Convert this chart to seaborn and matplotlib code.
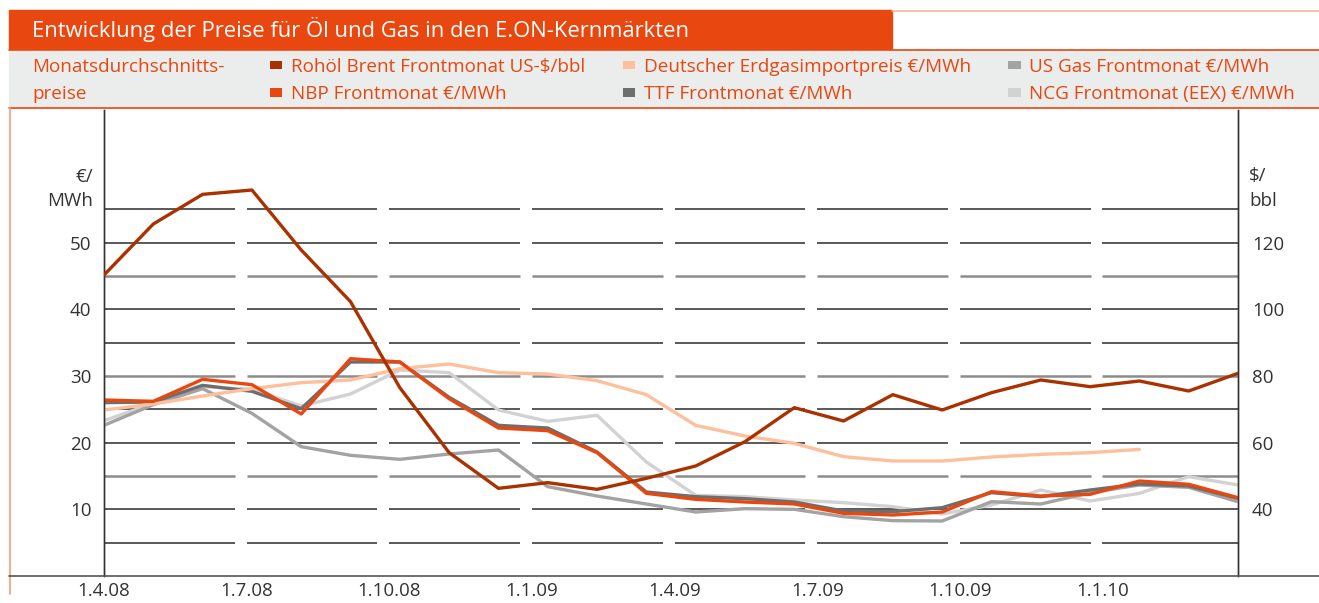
import numpy as np
import pandas as pd
import seaborn as sns
import matplotlib.pyplot as plt
from matplotlib.patches import Rectangle, Patch
from matplotlib.lines import Line2D

# monthly averages Apr 2008 - Mar 2010
brent = [110.3, 125.6, 134.5, 135.8, 117.8, 102.3, 76.5, 57.0, 46.3, 48.0, 46.0, 49.3,
         53.0, 60.3, 70.5, 66.5, 74.4, 69.8, 75.0, 78.8, 76.8, 78.5, 75.5, 80.8]
nbp = [26.4, 26.2, 29.5, 28.7, 24.3, 32.6, 32.1, 26.6, 22.2, 21.8, 18.5, 12.4,
       11.5, 11.1, 10.8, 9.4, 9.15, 9.6, 12.65, 12.0, 12.25, 14.25, 13.75, 11.75]
ttf = [26.0, 26.1, 28.6, 27.7, 25.1, 32.1, 32.1, 26.8, 22.6, 22.2, 18.6, 12.6,
       11.9, 11.6, 11.1, 9.75, 9.65, 10.25, 12.5, 11.9, 12.9, 13.8, 13.5, 11.65]
us_gas = [22.6, 25.7, 28.1, 24.4, 19.4, 18.1, 17.5, 18.3, 18.9, 13.4, 12.0, 10.8,
          9.6, 10.1, 10.0, 8.9, 8.3, 8.25, 11.15, 10.8, 12.5, 13.65, 13.3, 11.15]
ncg = [23.3, 25.9, 28.4, 28.0, 25.5, 27.3, 30.9, 30.5, 24.9, 23.2, 24.1, 17.1,
       12.1, 11.9, 11.4, 11.0, 10.4, 9.3, 10.65, 12.9, 11.25, 12.4, 14.9, 13.65]
gas_import = [24.9, 25.8, 27.0, 28.1, 29.0, 29.4, 31.1, 31.8, 30.5, 30.3, 29.3, 27.2,
              22.6, 21.0, 19.9, 17.9, 17.25, 17.25, 17.85, 18.25, 18.5, 19.0, np.nan, np.nan]

month = np.arange(len(brent))
tick_labels = ["1.4.08", "1.7.08", "1.10.08", "1.1.09", "1.4.09", "1.7.09", "1.10.09", "1.1.10"]

names = {
    "brent": "Rohöl Brent Frontmonat US-$/bbl",
    "nbp": "NBP Frontmonat €/MWh",
    "imp": "Deutscher Erdgasimportpreis €/MWh",
    "ttf": "TTF Frontmonat €/MWh",
    "us": "US Gas Frontmonat €/MWh",
    "ncg": "NCG Frontmonat (EEX) €/MWh",
}
colors = {"brent": "#a93200", "nbp": "#e8470f", "imp": "#fdbf9c",
          "ttf": "#6e6e6e", "us": "#a3a3a3", "ncg": "#d2d2d2"}
orange = "#e8470f"

sns.set_theme(style="white")
plt.rcParams["font.family"] = ["Open Sans", "DejaVu Sans"]

W, H = 1319, 603
fig = plt.figure(figsize=(W / 100, H / 100), dpi=100)

def fx(x):
    return x / W

def fy(y):
    return 1 - y / H

# header: title bar and legend band
fig.patches.append(Rectangle((fx(9), fy(49)), fx(892) - fx(9), fy(10) - fy(49),
                             transform=fig.transFigure, color=orange, zorder=0))
fig.lines.append(Line2D([fx(892), 1], [fy(11), fy(11)], transform=fig.transFigure,
                        color="#f6b39a", lw=1.2))
fig.patches.append(Rectangle((fx(9), fy(108)), 1 - fx(9), fy(50) - fy(108),
                             transform=fig.transFigure, color="#ebecec", zorder=0))
fig.lines.append(Line2D([fx(9), 1], [fy(49.5), fy(49.5)], transform=fig.transFigure,
                        color=orange, lw=1.2))
fig.lines.append(Line2D([fx(9), 1], [fy(108), fy(108)], transform=fig.transFigure,
                        color=orange, lw=1.2))
fig.lines.append(Line2D([fx(9.5), fx(9.5)], [fy(108), fy(594)], transform=fig.transFigure,
                        color="#f4a486", lw=1.3))
fig.text(fx(32), fy(29), "Entwicklung der Preise für Öl und Gas in den E.ON-Kernmärkten",
         color="white", fontsize=15.8, va="center", ha="left")
fig.text(fx(32), fy(80.5), "Monatsdurchschnitts-\npreise", color=orange, fontsize=13.6,
         va="center", ha="left", linespacing=1.6)

# plot area
ax = fig.add_axes([fx(104), fy(576), fx(1238) - fx(104), fy(110) - fy(576)])
ax.set_facecolor("none")
ax.set_xlim(0, 23)
ax.set_ylim(0, 69.9)

ticks = np.arange(len(tick_labels)) * 2.893
# dashed-looking gridlines with a gap before each date label
starts = np.concatenate([[0], ticks[1:]])
ends = np.concatenate([ticks[1:] - 0.24, [23]])
for val in range(5, 60, 5):
    gray = val % 15 == 0
    ax.hlines([val] * len(starts), starts, ends, colors="#8c8c8c" if gray else "#3c3c3c",
              lw=1.8 if gray else 1.2, zorder=1)

df = pd.DataFrame({"month": month, "ncg": ncg, "us": us_gas, "ttf": ttf,
                   "imp": gas_import, "nbp": nbp})
for key, z in [("ncg", 2), ("us", 3), ("ttf", 4), ("imp", 5), ("nbp", 6)]:
    sns.lineplot(data=df, x="month", y=key, ax=ax, color=colors[key], lw=2.4,
                 zorder=z, legend=False)

ax2 = ax.twinx()
ax2.set_ylim(20, 20 + 2 * 69.9)
sns.lineplot(x=month, y=brent, ax=ax2, color=colors["brent"], lw=2.4, zorder=7, legend=False)

ax.set_xticks(ticks)
ax.set_xticklabels(tick_labels)
ax.set_yticks([10, 20, 30, 40, 50])
ax2.set_yticks([40, 60, 80, 100, 120])
for a in (ax, ax2):
    a.set_xlabel("")
    a.set_ylabel("")
    a.tick_params(length=0, labelsize=13.5, labelcolor="#333333")
    a.grid(False)
    for s in ("top", "bottom"):
        a.spines[s].set_visible(False)
    for s in ("left", "right"):
        a.spines[s].set_color("#333333")
        a.spines[s].set_linewidth(1.0)
ax.tick_params(axis="y", pad=9)
ax.tick_params(axis="x", pad=4)
ax2.tick_params(axis="y", pad=10)

# x axis line across the whole panel
fig.lines.append(Line2D([fx(9), 1], [fy(576), fy(576)], transform=fig.transFigure,
                        color="#555555", lw=1.2))

fig.text(fx(93), fy(189), "€/\nMWh", ha="right", va="center", multialignment="right",
         fontsize=13.5, color="#333333", linespacing=1.5)
fig.text(fx(1249), fy(189), "$/\nbbl", ha="left", va="center", multialignment="left",
         fontsize=13.5, color="#333333", linespacing=1.5)

order = ["brent", "nbp", "imp", "ttf", "us", "ncg"]
handles = [Patch(facecolor=colors[k], edgecolor="none", label=names[k]) for k in order]
fig.legend(handles=handles, loc="upper left", bbox_to_anchor=(fx(270), fy(58)), ncol=3,
           frameon=False, fontsize=13.6, labelcolor=orange, handlelength=0.65,
           handleheight=0.3, handletextpad=0.45, columnspacing=2.0, labelspacing=0.5,
           borderpad=0, borderaxespad=0)

fig.savefig("out.png", dpi=100)
